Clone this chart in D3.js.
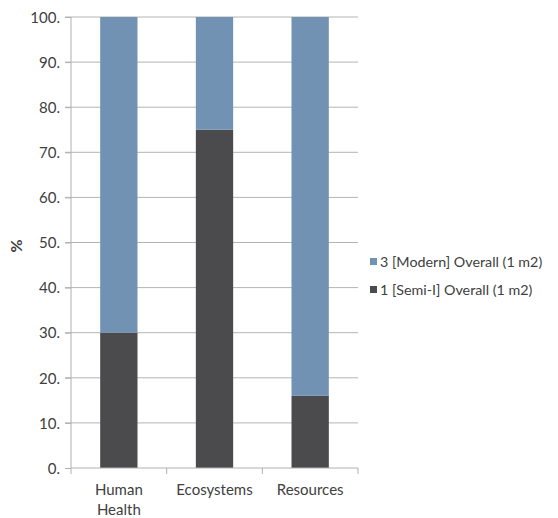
<!DOCTYPE html>
<html>
<head>
<meta charset="utf-8">
<script src="https://cdn.jsdelivr.net/npm/d3@7"></script>
<style>
  html, body { margin: 0; padding: 0; background: #fff; }
  svg { display: block; font-family: Lato, "Open Sans", sans-serif; }
</style>
</head>
<body>
<svg id="chart" width="558" height="518"></svg>
<script>
// Impact categories along the x axis
const categories = ["Human Health", "Ecosystems", "Resources"];
// Share of each system in the overall score (%)
const semiValues = [30, 75, 16];
const modernValues = [70, 25, 84];
const seriesNames = ["3 [Modern] Overall (1 m2)", "1 [Semi-I] Overall (1 m2)"];
const yTicks = [0, 10, 20, 30, 40, 50, 60, 70, 80, 90, 100];

const colors = { modern: "#7292b4", semi: "#4b4b4d" };
const textColor = "#404040";

const svg = d3.select("#chart");
const x0 = 71, x1 = 358;
const yTop = 17, yBottom = 468;

const x = d3.scaleBand().domain(categories).range([x0, x1])
  .paddingInner(0.61).paddingOuter(0.305);
const xTicks = d3.scaleBand().domain(categories).range([x0, x1]);
const y = d3.scaleLinear().domain([0, 100]).range([yBottom, yTop]);

// Horizontal gridlines
svg.append("g").selectAll("line").data(yTicks.filter(d => d > 0)).join("line")
  .attr("x1", x0 - 6).attr("x2", x1)
  .attr("y1", d => y(d)).attr("y2", d => y(d))
  .attr("stroke", "#b4b4b4").attr("stroke-width", 1);

// Stacked bars: semi at the bottom, modern on top
const rows = categories.map((c, i) => ({ c, semi: semiValues[i], modern: modernValues[i] }));
const stack = d3.stack().keys(["semi", "modern"])(rows);
svg.append("g").selectAll("g").data(stack).join("g")
  .attr("fill", s => colors[s.key])
  .selectAll("rect").data(s => s).join("rect")
  .attr("x", d => x(d.data.c))
  .attr("width", x.bandwidth())
  .attr("y", d => y(d[1]))
  .attr("height", d => y(d[0]) - y(d[1]));

// Y axis
const yAxis = d3.axisLeft(y).tickValues(yTicks).tickSize(6).tickPadding(5)
  .tickFormat(d => d + ".");
const gy = svg.append("g").attr("transform", `translate(${x0},0)`).call(yAxis);
gy.select(".domain").attr("stroke", "#b0b0b0").attr("d", `M0,${yTop}V${yBottom}`);
gy.selectAll(".tick line").attr("stroke", "#b0b0b0");
gy.selectAll(".tick text").attr("fill", textColor).style("font-size", "15px")
  .attr("font-family", "Lato, sans-serif").attr("dy", "0.35em");

// X axis
const xAxis = d3.axisBottom(xTicks).tickSize(0).tickFormat("");
const gx = svg.append("g").attr("transform", `translate(0,${yBottom})`).call(xAxis);
gx.select(".domain").attr("stroke", "#b0b0b0").attr("d", `M${x0},0H${x1}`);
gx.selectAll(".tick").remove();
const boundaries = [x0].concat(categories.map(c => xTicks(c) + xTicks.bandwidth()));
gx.selectAll("line.sep").data(boundaries).join("line").attr("class", "sep")
  .attr("x1", d => d).attr("x2", d => d).attr("y1", 0).attr("y2", 6)
  .attr("stroke", "#b0b0b0");

// Category labels, wrapped onto two lines where needed
const xLabels = { "Human Health": ["Human", "Health"], "Ecosystems": ["Ecosystems"], "Resources": ["Resources"] };
const lbl = svg.append("g").selectAll("text").data(categories).join("text")
  .attr("x", d => x(d) + x.bandwidth() / 2)
  .attr("y", 495)
  .attr("text-anchor", "middle")
  .attr("fill", textColor).style("font-size", "15px");
lbl.selectAll("tspan").data(d => xLabels[d].map(t => ({ t, cx: x(d) + x.bandwidth() / 2 })))
  .join("tspan")
  .attr("x", d => d.cx)
  .attr("dy", (d, i) => i === 0 ? 0 : 20)
  .text(d => d.t);

// Y axis title
svg.append("text")
  .attr("transform", `translate(22,246) rotate(-90)`)
  .attr("text-anchor", "middle")
  .attr("fill", textColor).style("font-size", "16px").style("font-weight", "bold")
  .text("%");

// Legend
const legendColors = [colors.modern, colors.semi];
const lg = svg.append("g").selectAll("g").data(seriesNames).join("g")
  .attr("transform", (d, i) => `translate(370,${262 + i * 28})`);
lg.append("rect").attr("x", 0).attr("y", -4).attr("width", 7).attr("height", 7)
  .attr("fill", (d, i) => legendColors[i]);
lg.append("text").attr("x", 10).attr("dy", "0.35em")
  .attr("fill", textColor).style("font-size", "14.3px")
  .text(d => d);
</script>
</body>
</html>
